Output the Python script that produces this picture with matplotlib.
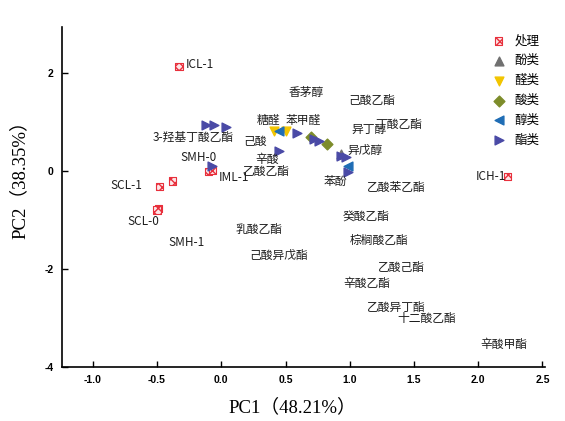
import numpy as np
import matplotlib
matplotlib.use('Agg')
import matplotlib.pyplot as plt

plt.rcParams['font.family'] = ['Noto Sans CJK SC', 'DejaVu Sans']

# puntos de tratamiento (处理)
trat_x = [-0.33, -0.10, -0.07, -0.38, -0.48, -0.49, -0.50, 2.23]
trat_y = [2.14, 0.00, 0.03, -0.20, -0.31, -0.76, -0.79, -0.10]

# compuestos por clase
fen_x = [0.93]
fen_y = [0.36]
ald_x = [0.41, 0.50]
ald_y = [0.82, 0.82]
aci_x = [0.70, 0.82]
aci_y = [0.71, 0.56]
alc_x = [0.45, 0.99]
alc_y = [0.82, 0.10]
est_x = [-0.12, -0.06, 0.04, -0.07, 0.45, 0.59, 0.72, 0.76, 0.93, 0.97, 0.99]
est_y = [0.94, 0.94, 0.90, 0.10, 0.41, 0.78, 0.67, 0.61, 0.31, 0.29, -0.02]

# etiquetas
etiquetas = ['ICL-1', 'SMH-0', 'IML-1', 'SCL-1', 'SCL-0', 'SMH-1', 'ICH-1',
             '香茅醇', '己酸乙酯', '糖醛', '苯甲醛', '丁酸乙酯', '异丁醇',
             '3-羟基丁酸乙酯', '己酸', '异戊醇', '辛酸', '乙酸乙酯', '苯酚',
             '乙酸苯乙酯', '癸酸乙酯', '乳酸乙酯', '棕榈酸乙酯', '己酸异戊酯',
             '乙酸己酯', '辛酸乙酯', '乙酸异丁酯', '十二酸乙酯', '辛酸甲酯']
etq_x = [-0.17, -0.18, 0.10, -0.74, -0.61, -0.27, 2.10,
         0.66, 1.17, 0.37, 0.64, 1.38, 1.15,
         -0.22, 0.26, 1.12, 0.36, 0.35, 0.89,
         1.36, 1.13, 0.29, 1.23, 0.45,
         1.40, 1.13, 1.36, 1.60, 2.20]
etq_y = [2.18, 0.29, -0.12, -0.29, -1.02, -1.45, -0.10,
         1.61, 1.45, 1.04, 1.04, 0.96, 0.86,
         0.71, 0.61, 0.43, 0.24, 0.00, -0.20,
         -0.33, -0.92, -1.18, -1.41, -1.71,
         -1.96, -2.29, -2.78, -3.00, -3.53]

fig = plt.figure(figsize=(5.65, 4.21), dpi=100)
ax = fig.add_axes([62 / 565, 54 / 421, 483 / 565, 340 / 421])

ax.scatter(trat_x, trat_y, marker='s', s=28, facecolor='#fde6e8',
           edgecolor='#e8303c', hatch='xxxx', linewidth=0.8, label='处理', zorder=3)
ax.scatter(fen_x, fen_y, marker='^', s=40, color='#707070', label='酚类', zorder=3)
ax.scatter(ald_x, ald_y, marker='v', s=40, color='#f2c500', label='醛类', zorder=3)
ax.scatter(aci_x, aci_y, marker='D', s=30, color='#7d8c2a', label='酸类', zorder=3)
ax.scatter(alc_x, alc_y, marker='<', s=40, color='#1f6db5', label='醇类', zorder=3)
ax.scatter(est_x, est_y, marker='>', s=40, color='#4a4aa6', label='酯类', zorder=3)

for t, x, y in zip(etiquetas, etq_x, etq_y):
    ax.text(x, y, t, fontsize=8.5, ha='center', va='center', color='#1e1e1e', zorder=4)

ax.set_xlim(-1.24, 2.52)
ax.set_ylim(-4, 2.95)
ax.set_xticks([-1.0, -0.5, 0.0, 0.5, 1.0, 1.5, 2.0, 2.5])
ax.set_yticks([-4, -2, 0, 2])
ax.set_xticklabels(['-1.0', '-0.5', '0.0', '0.5', '1.0', '1.5', '2.0', '2.5'])
ax.set_yticklabels(['-4', '-2', '0', '2'])
for lab in ax.get_xticklabels() + ax.get_yticklabels():
    lab.set_family('Liberation Sans')
    lab.set_fontweight('bold')
    lab.set_fontsize(7.5)
ax.tick_params(direction='in', length=4, width=1, pad=6)
ax.spines['top'].set_visible(False)
ax.spines['right'].set_visible(False)
ax.spines['left'].set_linewidth(1.2)
ax.spines['bottom'].set_linewidth(1.2)

ax.set_xlabel('PC1（48.21%）', family=['Liberation Serif', 'Noto Sans CJK SC'],
              fontsize=13.5, va='center')
ax.set_ylabel('PC2（38.35%）', family=['Liberation Serif', 'Noto Sans CJK SC'],
              fontsize=13.5, va='center')
ax.xaxis.set_label_coords(0.476, -0.118)
ax.yaxis.set_label_coords(-0.087, 0.565)

leg = fig.legend(loc='upper left', bbox_to_anchor=(486 / 565, 1 - 28 / 421),
                 frameon=False, fontsize=9, labelspacing=0.55, handletextpad=0.8,
                 borderpad=0, handlelength=1.0)

fig.savefig('out.png', dpi=100)
